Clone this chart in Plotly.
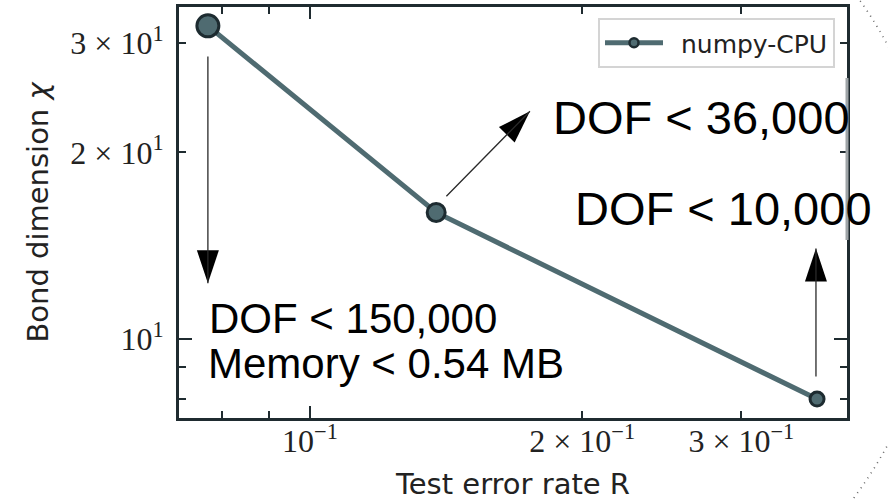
import math
import plotly.graph_objects as go

# ---------------- data ----------------
test_error = [0.0771, 0.1379, 0.3638]
bond_dim = [32, 16, 8]
marker_sizes = [22, 18, 14]
series_name = "numpy-CPU"

x_tick_vals = [0.08, 0.09, 0.1, 0.2, 0.3]
x_tick_text = ["", "", "10<sup>−1</sup>", "2 × 10<sup>−1</sup>", "3 × 10<sup>−1</sup>"]
y_tick_vals = [8, 9, 10, 20, 30]
y_tick_text = ["", "", "10<sup>1</sup>", "2 × 10<sup>1</sup>", "3 × 10<sup>1</sup>"]

# arrows: (tail x, tail y) -> (tip x, tip y) in data units
arrow_tails = [(0.0771, 28.7), (0.141, 16.9), (0.3628, 8.65)]
arrow_tips = [(0.0771, 12.3), (0.1751, 23.3), (0.3628, 14.0)]

# text labels (pixel positions of left edge / vertical centre, font size)
labels = [
    ("DOF < 36,000", 551, 117, 47),
    ("DOF < 10,000", 573, 209, 47),
    ("DOF < 150,000", 207, 318, 42),
    ("Memory < 0.54 MB", 206, 363, 42),
]

W, H = 888, 501
L, R, T, B = 179, 41, 7, 83
PW, PH = W - L - R, H - T - B

LINE_COLOR = "#4f6b71"
EDGE_COLOR = "#1d2b30"
FRAME = "#1f2b30"

XR = (-1.1449, -0.406)
YR = (0.8726, 1.5355)


def px(xv):
    lo, hi = XR
    return (math.log10(xv) - lo) / (hi - lo) * PW


def py(yv):
    lo, hi = YR
    return (math.log10(yv) - lo) / (hi - lo) * PH


def paper_x(pix):
    return (pix - L) / PW


def paper_y(pix):
    return (T + PH - pix) / PH


fig = go.Figure()
fig.add_trace(go.Scatter(
    x=test_error, y=bond_dim, mode="lines+markers", showlegend=False,
    line=dict(color=LINE_COLOR, width=5),
    marker=dict(size=marker_sizes, color=LINE_COLOR, opacity=1,
                line=dict(color=EDGE_COLOR, width=3)),
))
# legend entry
fig.add_trace(go.Scatter(
    x=[None], y=[None], mode="lines+markers", name="\u00a0\u2009" + series_name,
    line=dict(color=LINE_COLOR, width=5),
    marker=dict(size=9, color=LINE_COLOR, opacity=1, line=dict(color=EDGE_COLOR, width=2.5)),
))

annotations = []
shapes = []
for (tx, ty), (hx, hy) in zip(arrow_tails, arrow_tips):
    annotations.append(dict(
        x=math.log10(hx), y=math.log10(hy), xref="x", yref="y",
        ax=math.log10(tx), ay=math.log10(ty), axref="x", ayref="y",
        showarrow=True, arrowhead=0, arrowwidth=1.3, arrowcolor="#2a2a2a", text="",
    ))

HEAD_LEN, HEAD_HALF = 33, 11
for (tx, ty), (hx, hy) in zip(arrow_tails, arrow_tips):
    dx, dy = px(hx) - px(tx), py(hy) - py(ty)
    n = math.hypot(dx, dy)
    ux, uy = dx / n, dy / n
    bx, by = -HEAD_LEN * ux, -HEAD_LEN * uy
    pxp, pyp = -uy * HEAD_HALF, ux * HEAD_HALF
    path = "M0,0 L{:.2f},{:.2f} L{:.2f},{:.2f} Z".format(bx + pxp, by + pyp, bx - pxp, by - pyp)
    shapes.append(dict(
        type="path", xref="x", yref="y", xsizemode="pixel", ysizemode="pixel",
        xanchor=hx, yanchor=hy, path=path, fillcolor="black", line=dict(width=0),
        layer="above",
    ))

for text, xpix, ypix, fs in labels:
    annotations.append(dict(
        x=paper_x(xpix), y=paper_y(ypix), xref="paper", yref="paper",
        xanchor="left", yanchor="middle", showarrow=False, text=text,
        font=dict(family="Liberation Sans, Arial", size=fs, color="black"),
    ))

# gray overlap segment at the right edge
shapes.append(dict(type="line", xref="paper", yref="paper", x0=1.0, x1=1.0,
                   y0=paper_y(78), y1=paper_y(240),
                   line=dict(color="#9ea4a7", width=3), layer="above"))

# dotted arcs peeking in at the right edge (decoration)
CX, CY, RAD = 516, 245, 422
for y_from, y_to in [(-4, 52), (436, 506)]:
    pts = []
    steps = 30
    for i in range(steps + 1):
        yy = y_from + (y_to - y_from) * i / steps
        xx = CX + math.sqrt(max(RAD ** 2 - (yy - CY) ** 2, 0))
        pts.append((paper_x(xx), paper_y(yy)))
    path = "M" + " L".join("{:.5f},{:.5f}".format(a, b) for a, b in pts)
    shapes.append(dict(type="path", xref="paper", yref="paper", path=path,
                       line=dict(color="#666666", width=1.6, dash="1px,5px")))

axis_common = dict(
    type="log", showgrid=False, zeroline=False, showline=True, linewidth=3,
    linecolor=FRAME, mirror="ticks", ticks="inside", ticklen=7, tickwidth=2,
    tickcolor=FRAME, tickmode="array",
    tickfont=dict(family="Liberation Serif, Times New Roman, serif", size=32, color="#222"),
)

fig.update_layout(
    width=W, height=H, margin=dict(l=L, r=R, t=T, b=B, autoexpand=False),
    paper_bgcolor="white", plot_bgcolor="white",
    xaxis=dict(**axis_common, range=list(XR), tickvals=x_tick_vals, ticktext=x_tick_text,
               minor=dict(tickmode="array", tickvals=[0.1], ticks="inside", ticklen=12,
                          tickwidth=2, tickcolor=FRAME, showgrid=False),
               ticklabelstandoff=-7, automargin=False,
               title=dict(text="Test error rate R", standoff=16,
                          font=dict(family="DejaVu Sans", size=29, color="#222"))),
    yaxis=dict(**axis_common, range=list(YR), tickvals=y_tick_vals, ticktext=y_tick_text,
               minor=dict(tickmode="array", tickvals=[10], ticks="inside", ticklen=13,
                          tickwidth=2, tickcolor=FRAME, showgrid=False),
               ticklabelstandoff=6, automargin=False,
               title=dict(text="Bond dimension <i>χ</i>", standoff=14,
                          font=dict(family="DejaVu Sans", size=29, color="#222"))),
    legend=dict(x=paper_x(835), xanchor="right", y=paper_y(18), yanchor="top",
                bgcolor="white", bordercolor="#d4d4d4", borderwidth=2,
                font=dict(family="DejaVu Sans", size=25, color="#222"), itemwidth=58),
    annotations=annotations, shapes=shapes,
)

fig.write_html("out.html", config={"displayModeBar": False},
               post_script="document.body.style.margin='0';document.body.style.overflow='hidden';")
